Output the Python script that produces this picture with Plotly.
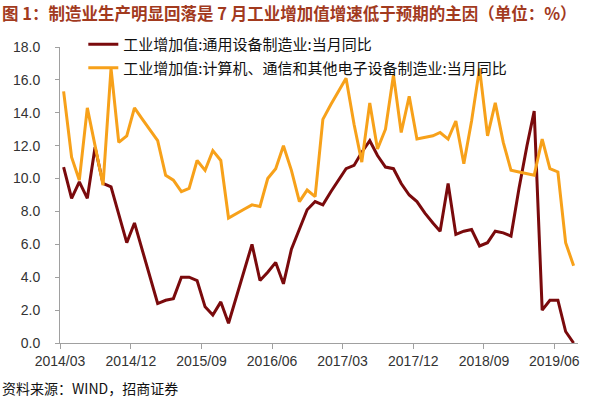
import plotly.graph_objects as go
import pandas as pd

# Monthly data, 2014/03 .. 2019/08
months = pd.date_range("2014-03-01", "2019-08-01", freq="MS")
x_dates = [d + pd.Timedelta(days=14) for d in months]

general_equipment = [
    10.7, 8.8, 9.8, 8.8, 11.9, 9.7, 9.5, 7.8, 6.1, 7.3,
    5.6, 4.0, 2.4, 2.6, 2.7, 4.0, 4.0, 3.8, 2.2, 1.7,
    2.5, 1.2, 2.8, 4.5, 6.0, 3.8, 4.3, 4.9, 3.6, 5.7,
    6.9, 8.1, 8.6, 8.4, 9.2, 9.9, 10.6, 10.8, 11.6, 12.3,
    11.4, 10.7, 10.6, 9.7, 9.0, 8.6, 7.9, 7.3, 6.8, 9.7,
    6.6, 6.8, 6.9, 5.9, 6.1, 6.8, 6.7, 6.5, 9.4, 12.0,
    14.1, 2.0, 2.6, 2.6, 0.7, 0.0,
]
electronics = [
    15.3, 11.3, 9.9, 14.3, 12.0, 9.6, 16.7, 12.2, 12.6, 14.3,
    13.6, 12.9, 12.3, 10.2, 9.9, 9.2, 9.4, 11.1, 10.5, 11.7,
    11.1, 7.6, 7.9, 8.15, 8.4, 8.3, 10.0, 10.6, 12.0, 10.5,
    8.6, 9.3, 8.9, 13.6, 14.5, 15.3, 16.1, 13.3, 11.0, 14.6,
    11.8, 13.0, 16.3, 12.8, 15.0, 12.4, 12.5, 12.6, 12.8, 12.4,
    13.5, 10.9, 13.5, 16.7, 12.6, 14.6, 12.2, 10.5, 10.4, 10.3,
    10.2, 12.4, 10.6, 10.4, 6.1, 4.7,
]

tick_dates = ["2014-03-01", "2014-12-01", "2015-09-01", "2016-06-01",
              "2017-03-01", "2017-12-01", "2018-09-01", "2019-06-01"]
tick_labels = ["2014/03", "2014/12", "2015/09", "2016/06",
               "2017/03", "2017/12", "2018/09", "2019/06"]
y_ticks = [0, 2, 4, 6, 8, 10, 12, 14, 16, 18]

name1 = "工业增加值:通用设备制造业:当月同比"
name2 = "工业增加值:计算机、通信和其他电子设备制造业:当月同比"

fig = go.Figure()
fig.add_trace(go.Scatter(x=x_dates, y=general_equipment, mode="lines", name=name1,
                         legendgroup="a",
                         line=dict(color="#7A0A0C", width=3)))
fig.add_trace(go.Scatter(x=x_dates, y=electronics, mode="lines", name=name2,
                         legendgroup="b",
                         line=dict(color="#F7A11A", width=3)))

font_family = "Liberation Sans, Noto Sans CJK SC, sans-serif"

fig.update_layout(
    width=600, height=398,
    margin=dict(l=60, r=22, t=47, b=55),
    paper_bgcolor="white", plot_bgcolor="white",
    font=dict(family=font_family, size=14, color="#333333"),
    showlegend=True,
    legend=dict(x=0.045, y=1.064, xanchor="left", yanchor="top",
                bgcolor="rgba(0,0,0,0)", font=dict(size=15, color="#111111",
                family="Noto Sans CJK SC, sans-serif"),
                tracegroupgap=1, itemwidth=30),
    xaxis=dict(type="date", range=["2014-03-01", "2019-09-01"],
               tickvals=tick_dates, ticktext=tick_labels,
               showgrid=False, zeroline=False,
               showline=True, linecolor="#A0A0A0", linewidth=1,
               ticks="outside", ticklen=5, tickcolor="#A0A0A0",
               tickfont=dict(size=14, color="#333333")),
    yaxis=dict(range=[0, 18], tickvals=y_ticks, tickformat=".1f",
               showgrid=False, zeroline=False,
               showline=True, linecolor="#A0A0A0", linewidth=1,
               ticks="outside", ticklen=4, tickcolor="#A0A0A0",
               ticklabelstandoff=12,
               tickfont=dict(size=14, color="#333333")),
)

fig.add_annotation(text="<b>图 1：制造业生产明显回落是 7 月工业增加值增速低于预期的主因（单位：%）</b>",
                   xref="paper", yref="paper", x=-0.115, y=1.0, xanchor="left", yanchor="middle",
                   yshift=34, showarrow=False,
                   font=dict(size=16.5, color="#A23A1E", family="Noto Sans CJK SC, sans-serif"))
fig.add_annotation(text="资料来源：WIND，招商证券",
                   xref="paper", yref="paper", x=-0.115, y=0, xanchor="left", yanchor="middle",
                   yshift=-45, showarrow=False,
                   font=dict(size=14, color="#111111", family="Noto Sans CJK SC, sans-serif"))

fig.write_html("out.html", config={"displayModeBar": False},
               post_script="document.body.style.margin='0';")
